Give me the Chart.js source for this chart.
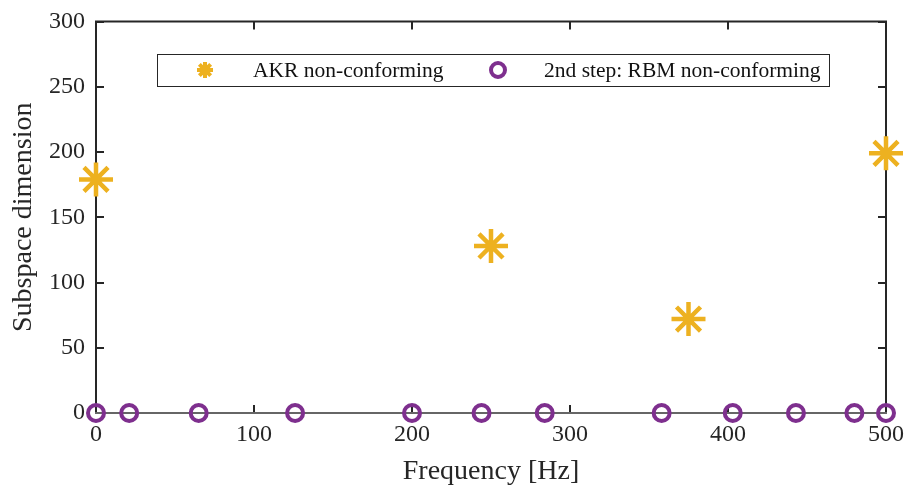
<!DOCTYPE html>
<html>
<head>
<meta charset="utf-8">
<script src="https://cdn.jsdelivr.net/npm/chart.js@4/dist/chart.umd.min.js"></script>
<style>
html,body{margin:0;padding:0;background:#fff;}
#wrap{width:909px;height:494px;}
</style>
</head>
<body>
<div id="wrap"><canvas id="c" width="909" height="494"></canvas></div>
<script>
const akrFreq = [0, 250, 375, 500];
const akrDim = [179, 128, 72, 199];
const rbmFreq = [0, 21, 65, 126, 200, 244, 284, 358, 403, 443, 480, 500];
const rbmDim = [0, 0, 0, 0, 0, 0, 0, 0, 0, 0, 0, 0];
const xTicks = [0, 100, 200, 300, 400, 500];
const yTicks = [0, 50, 100, 150, 200, 250, 300];
const seriesNames = ['AKR non-conforming', '2nd step: RBM non-conforming'];

const AKR_COLOR = '#EDB120';
const RBM_COLOR = '#7E2F8E';
const FONT = '"Liberation Serif", "DejaVu Serif", serif';

const framePlugin = {
  id: 'frame',
  beforeDatasetsDraw(chart) {
    const ctx = chart.ctx, a = chart.chartArea;
    const xs = chart.scales.x, ys = chart.scales.y;
    const tl = 8;
    ctx.save();
    ctx.lineCap = 'butt';
    ctx.strokeStyle = '#262626';
    ctx.lineWidth = 2;
    ctx.beginPath();
    xTicks.forEach(v => {
      const px = Math.round(xs.getPixelForValue(v));
      ctx.moveTo(px, a.bottom); ctx.lineTo(px, a.bottom - tl);
      ctx.moveTo(px, a.top); ctx.lineTo(px, a.top + tl);
    });
    yTicks.forEach(v => {
      const py = Math.round(ys.getPixelForValue(v));
      ctx.moveTo(a.left, py); ctx.lineTo(a.left + tl, py);
      ctx.moveTo(a.right, py); ctx.lineTo(a.right - tl, py);
    });
    ctx.stroke();
    ctx.strokeStyle = '#262626';
    ctx.lineWidth = 2;
    ctx.beginPath();
    ctx.moveTo(a.left, a.bottom); ctx.lineTo(a.left, a.top);
    ctx.lineTo(a.right, a.top); ctx.lineTo(a.right, a.bottom);
    ctx.stroke();
    ctx.strokeStyle = '#666666';
    ctx.lineWidth = 2;
    ctx.beginPath();
    ctx.moveTo(a.left - 1, a.bottom); ctx.lineTo(a.right + 1, a.bottom);
    ctx.stroke();
    ctx.restore();
  },
  afterDatasetsDraw(chart) {
    const ctx = chart.ctx;
    const bx = 157, by = 54, bw = 672, bh = 32;
    ctx.save();
    ctx.fillStyle = '#ffffff';
    ctx.fillRect(bx, by, bw, bh);
    ctx.strokeStyle = '#262626';
    ctx.lineWidth = 1;
    ctx.strokeRect(bx + 0.5, by + 0.5, bw, bh);
    const cy = by + bh / 2;
    const ds = chart.data.datasets;
    ctx.strokeStyle = AKR_COLOR; ctx.fillStyle = AKR_COLOR; ctx.lineWidth = 4;
    Chart.helpers.drawPoint(ctx, {pointStyle: 'star', radius: 8, rotation: 0, borderWidth: 4}, 205, cy);
    ctx.beginPath();
    ctx.strokeStyle = RBM_COLOR; ctx.lineWidth = 4;
    ctx.arc(498, cy, 7, 0, Math.PI * 2);
    ctx.stroke();
    ctx.fillStyle = '#111';
    ctx.font = '21.5px ' + FONT;
    ctx.textBaseline = 'middle';
    ctx.textAlign = 'left';
    ctx.fillText(ds[0].label, 253, cy + 1);
    ctx.fillText(ds[1].label, 544, cy + 1);
    ctx.restore();
  }
};

new Chart(document.getElementById('c'), {
  type: 'scatter',
  data: {
    datasets: [
      {
        label: seriesNames[0],
        data: akrFreq.map((f, i) => ({x: f, y: akrDim[i]})),
        pointStyle: 'star',
        pointRadius: 17,
        pointHoverRadius: 17,
        borderColor: AKR_COLOR,
        backgroundColor: AKR_COLOR,
        pointBorderWidth: 4.5,
        clip: false
      },
      {
        label: seriesNames[1],
        data: rbmFreq.map((f, i) => ({x: f, y: rbmDim[i]})),
        pointStyle: 'circle',
        pointRadius: 8,
        pointHoverRadius: 8,
        borderColor: RBM_COLOR,
        backgroundColor: 'rgba(0,0,0,0)',
        pointBorderWidth: 4,
        clip: false
      }
    ]
  },
  options: {
    responsive: false,
    animation: false,
    events: [],
    layout: {padding: {top: 15, right: 23, left: 0, bottom: 0}},
    plugins: {legend: {display: false}, tooltip: {enabled: false}},
    scales: {
      x: {
        type: 'linear', min: 0, max: 500,
        afterBuildTicks: s => { s.ticks = xTicks.map(v => ({value: v})); },
        afterFit: s => { s.height = 81; s.paddingLeft = 0; s.paddingRight = 0; },
        grid: {display: false, drawTicks: false},
        border: {display: false},
        ticks: {color: '#262626', font: {family: FONT, size: 24}, padding: 7, maxRotation: 0},
        title: {display: true, text: 'Frequency [Hz]', color: '#262626', font: {family: FONT, size: 28}, padding: {top: 0, bottom: 6}}
      },
      y: {
        type: 'linear', min: 0, max: 300,
        afterBuildTicks: s => { s.ticks = yTicks.map(v => ({value: v})); },
        afterFit: s => { s.width = 96; s.paddingTop = 0; s.paddingBottom = 0; },
        grid: {display: false, drawTicks: false},
        border: {display: false},
        ticks: {color: '#262626', font: {family: FONT, size: 24}, padding: 11},
        title: {display: true, text: 'Subspace dimension', color: '#262626', font: {family: FONT, size: 28}, padding: {top: 7, bottom: 4}}
      }
    }
  },
  plugins: [framePlugin]
});
</script>
</body>
</html>
